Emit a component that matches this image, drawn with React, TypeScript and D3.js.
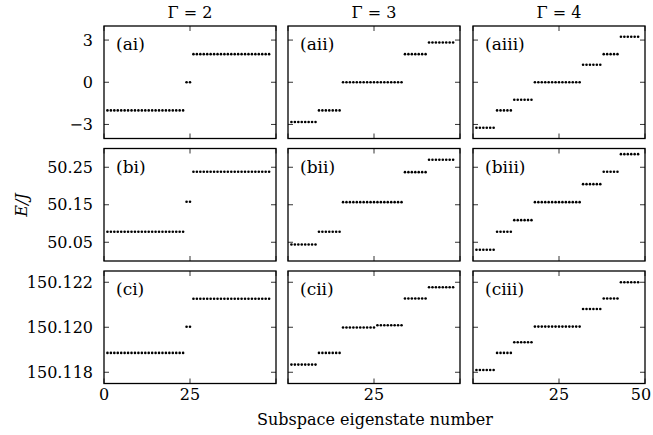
import { useEffect, useRef } from "react";
import * as d3 from "d3";

// degeneracy of each level (number of consecutive eigenstates), per Gamma
const countsG2 = [23, 2, 23];
const countsG3 = [8, 7, 18, 7, 8];
const countsG3split = [8, 7, 10, 8, 7, 8];
const countsG4 = [6, 5, 6, 14, 6, 5, 6];

// energy levels
const levelsAi = [-2, 0, 2];
const levelsAii = [-2.83, -2, 0, 2, 2.83];
const levelsAiii = [-3.24, -2, -1.24, 0, 1.24, 2, 3.24];
const levelsBi = [50.078, 50.158, 50.238];
const levelsBii = [50.044, 50.078, 50.157, 50.237, 50.27];
const levelsBiii = [50.03, 50.078, 50.109, 50.157, 50.205, 50.238, 50.285];
const levelsCi = [150.11886, 150.12002, 150.12127];
const levelsCii = [150.11834, 150.11886, 150.11999, 150.12009, 150.12128, 150.12178];
const levelsCiii = [150.1181, 150.11886, 150.11933, 150.12003, 150.12081, 150.12128, 150.122];

const columnTitles = ["Γ = 2", "Γ = 3", "Γ = 4"];
const rowDomains: [number, number][] = [[-4, 4], [50.0, 50.3], [150.1175, 150.1225]];
const rowTicks = [[-3, 0, 3], [50.05, 50.15, 50.25], [150.118, 150.12, 150.122]];
const rowTickFormats = [
    (d: number) => (d < 0 ? "\u2212" + Math.abs(d) : String(d)),
    (d: number) => d.toFixed(2),
    (d: number) => d.toFixed(3),
];
const xTicks = [0, 25, 50];
const xLabelsShown = [[0, 25], [25], [25, 50]];

const panels = [
    { label: "(ai)", row: 0, col: 0, levels: levelsAi, counts: countsG2 },
    { label: "(aii)", row: 0, col: 1, levels: levelsAii, counts: countsG3 },
    { label: "(aiii)", row: 0, col: 2, levels: levelsAiii, counts: countsG4 },
    { label: "(bi)", row: 1, col: 0, levels: levelsBi, counts: countsG2 },
    { label: "(bii)", row: 1, col: 1, levels: levelsBii, counts: countsG3 },
    { label: "(biii)", row: 1, col: 2, levels: levelsBiii, counts: countsG4 },
    { label: "(ci)", row: 2, col: 0, levels: levelsCi, counts: countsG2 },
    { label: "(cii)", row: 2, col: 1, levels: levelsCii, counts: countsG3split },
    { label: "(ciii)", row: 2, col: 2, levels: levelsCiii, counts: countsG4 },
];

const FONT = '"DejaVu Serif", "Liberation Serif", serif';

function expand(levels: number[], counts: number[]) {
    const pts: { n: number; e: number }[] = [];
    let n = 1;
    levels.forEach((e, i) => {
        for (let k = 0; k < counts[i]; k++) pts.push({ n: n++, e });
    });
    return pts;
}

export default function App() {
    const ref = useRef<SVGSVGElement>(null);

    useEffect(() => {
        const width = 653, height = 435;
        const colX = [104, 288, 473];
        const rowY = [26, 148.5, 271];
        const pw = 172, ph = 112.5;
        const tickLen = 5;

        const svg = d3.select(ref.current);
        svg.selectAll("*").remove();
        svg.attr("width", width).attr("height", height).style("font-family", FONT);

        // column titles
        columnTitles.forEach((t, c) => {
            svg.append("text")
                .attr("x", colX[c] + pw / 2)
                .attr("y", 18)
                .attr("text-anchor", "middle")
                .style("font-size", "16px")
                .text(t);
        });

        panels.forEach(p => {
            const x = d3.scaleLinear().domain([0, 50]).range([0, pw]);
            const y = d3.scaleLinear().domain(rowDomains[p.row]).range([ph, 0]);
            const g = svg.append("g").attr("transform", `translate(${colX[p.col]},${rowY[p.row]})`);

            // y ticks, both sides, pointing inward
            const yt = rowTicks[p.row];
            g.selectAll(".ytl").data(yt).enter().append("line")
                .attr("x1", 0).attr("x2", tickLen)
                .attr("y1", d => y(d)).attr("y2", d => y(d))
                .attr("stroke", "#000").attr("stroke-width", 0.8);
            g.selectAll(".ytr").data(yt).enter().append("line")
                .attr("x1", pw).attr("x2", pw - tickLen)
                .attr("y1", d => y(d)).attr("y2", d => y(d))
                .attr("stroke", "#000").attr("stroke-width", 0.8);
            // x ticks top and bottom
            g.selectAll(".xtb").data(xTicks).enter().append("line")
                .attr("x1", d => x(d)).attr("x2", d => x(d))
                .attr("y1", ph).attr("y2", ph - tickLen)
                .attr("stroke", "#000").attr("stroke-width", 0.8);
            g.selectAll(".xtt").data(xTicks).enter().append("line")
                .attr("x1", d => x(d)).attr("x2", d => x(d))
                .attr("y1", 0).attr("y2", tickLen)
                .attr("stroke", "#000").attr("stroke-width", 0.8);

            if (p.col === 0) {
                g.selectAll(".ylab").data(yt).enter().append("text")
                    .attr("x", -11)
                    .attr("y", d => y(d))
                    .attr("dy", "0.35em")
                    .attr("text-anchor", "end")
                    .style("font-size", "16px")
                    .text(d => rowTickFormats[p.row](d));
            }
            if (p.row === 2) {
                g.selectAll(".xlab").data(xLabelsShown[p.col]).enter().append("text")
                    .attr("x", d => x(d))
                    .attr("dx", d => (d === 50 ? -4 : 0))
                    .attr("y", ph + 16)
                    .attr("text-anchor", "middle")
                    .style("font-size", "16px")
                    .text(d => String(d));
            }

            g.selectAll("circle").data(expand(p.levels, p.counts)).enter().append("circle")
                .attr("cx", d => x(d.n))
                .attr("cy", d => y(d.e))
                .attr("r", 1.3)
                .attr("fill", "#000");

            g.append("rect")
                .attr("width", pw).attr("height", ph)
                .attr("fill", "none").attr("stroke", "#000").attr("stroke-width", 1.3);

            g.append("text")
                .attr("x", 12)
                .attr("y", 24)
                .style("font-size", "17px")
                .text(p.label);
        });

        svg.append("text")
            .attr("transform", "translate(27,205) rotate(-90)")
            .attr("text-anchor", "middle")
            .style("font-size", "16px")
            .style("font-style", "italic")
            .text("E/J");

        svg.append("text")
            .attr("x", 375)
            .attr("y", 425)
            .attr("text-anchor", "middle")
            .style("font-size", "16px")
            .text("Subspace eigenstate number");
    }, []);

    return <svg ref={ref} style={{ position: "absolute", left: 0, top: 0 }} />;
}
